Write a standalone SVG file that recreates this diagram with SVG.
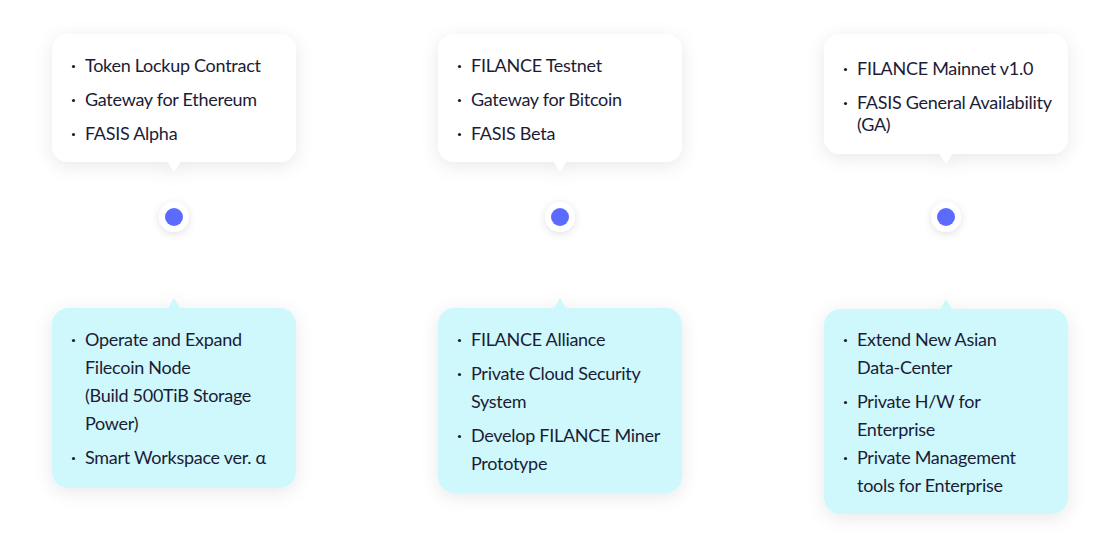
<svg xmlns="http://www.w3.org/2000/svg" width="1120" height="559" viewBox="0 0 1120 559">
<defs>
<filter id="sh" x="-20%" y="-20%" width="140%" height="150%">
<feDropShadow dx="0" dy="4" stdDeviation="9" flood-color="#000" flood-opacity="0.09"/>
</filter>
<filter id="dsh" x="-60%" y="-60%" width="220%" height="220%">
<feDropShadow dx="0" dy="2" stdDeviation="4" flood-color="#000" flood-opacity="0.12"/>
</filter>
</defs>
<style>
.top{fill:#ffffff;filter:url(#sh)}
.bot{fill:#cff8fc;filter:url(#sh)}
.ring{fill:#ffffff;filter:url(#dsh)}
.dot{fill:#5c6bff}
.bl{fill:#1b1c36}
text{font-family:Lato,"Noto Sans",sans-serif;font-size:18px;letter-spacing:-0.28px;fill:#1b1c36}
</style>
<rect width="1120" height="559" fill="#ffffff"/>

<g id="connectors"></g>

<g id="top1">
<path class="top" d="M68,34 H280 A16,16 0 0 1 296,50 V146 A16,16 0 0 1 280,162 H180 L174,172 L168,162 H68 A16,16 0 0 1 52,146 V50 A16,16 0 0 1 68,34 Z"/>
<circle class="bl" cx="73.5" cy="66.5" r="1.6"/><text x="85" y="72">Token Lockup Contract</text>
<circle class="bl" cx="73.5" cy="100.5" r="1.6"/><text x="85" y="106">Gateway for Ethereum</text>
<circle class="bl" cx="73.5" cy="134.5" r="1.6"/><text x="85" y="140">FASIS Alpha</text>
</g>

<g id="top2">
<path class="top" d="M454,34 H666 A16,16 0 0 1 682,50 V146 A16,16 0 0 1 666,162 H566 L560,172 L554,162 H454 A16,16 0 0 1 438,146 V50 A16,16 0 0 1 454,34 Z"/>
<circle class="bl" cx="459.5" cy="66.5" r="1.6"/><text x="471" y="72">FILANCE Testnet</text>
<circle class="bl" cx="459.5" cy="100.5" r="1.6"/><text x="471" y="106">Gateway for Bitcoin</text>
<circle class="bl" cx="459.5" cy="134.5" r="1.6"/><text x="471" y="140">FASIS Beta</text>
</g>

<g id="top3">
<path class="top" d="M840,34 H1052 A16,16 0 0 1 1068,50 V138 A16,16 0 0 1 1052,154 H952 L946,164 L940,154 H840 A16,16 0 0 1 824,138 V50 A16,16 0 0 1 840,34 Z"/>
<circle class="bl" cx="845.5" cy="69.5" r="1.6"/><text x="857" y="75">FILANCE Mainnet v1.0</text>
<circle class="bl" cx="845.5" cy="103.5" r="1.6"/><text x="857" y="109">FASIS General Availability</text>
<text x="857" y="131">(GA)</text>
</g>

<g id="dot1"><circle class="ring" cx="174" cy="217" r="15"/><circle class="dot" cx="174" cy="217" r="9"/></g>
<g id="dot2"><circle class="ring" cx="560" cy="217" r="15"/><circle class="dot" cx="560" cy="217" r="9"/></g>
<g id="dot3"><circle class="ring" cx="946" cy="217" r="15"/><circle class="dot" cx="946" cy="217" r="9"/></g>

<g id="bot1">
<path class="bot" d="M68,308 H168 L174,298 L180,308 H280 A16,16 0 0 1 296,324 V472 A16,16 0 0 1 280,488 H68 A16,16 0 0 1 52,472 V324 A16,16 0 0 1 68,308 Z"/>
<circle class="bl" cx="73.5" cy="340.5" r="1.6"/><text x="85" y="346">Operate and Expand</text>
<text x="85" y="374">Filecoin Node</text>
<text x="85" y="402">(Build 500TiB Storage</text>
<text x="85" y="430">Power)</text>
<circle class="bl" cx="73.5" cy="458.5" r="1.6"/><text x="85" y="464">Smart Workspace ver. α</text>
</g>

<g id="bot2">
<path class="bot" d="M454,308 H554 L560,298 L566,308 H666 A16,16 0 0 1 682,324 V477 A16,16 0 0 1 666,493 H454 A16,16 0 0 1 438,477 V324 A16,16 0 0 1 454,308 Z"/>
<circle class="bl" cx="459.5" cy="340.5" r="1.6"/><text x="471" y="346">FILANCE Alliance</text>
<circle class="bl" cx="459.5" cy="374.5" r="1.6"/><text x="471" y="380">Private Cloud Security</text>
<text x="471" y="408">System</text>
<circle class="bl" cx="459.5" cy="436.5" r="1.6"/><text x="471" y="442">Develop FILANCE Miner</text>
<text x="471" y="470">Prototype</text>
</g>

<g id="bot3">
<path class="bot" d="M840,309 H940 L946,299 L952,309 H1052 A16,16 0 0 1 1068,325 V498 A16,16 0 0 1 1052,514 H840 A16,16 0 0 1 824,498 V325 A16,16 0 0 1 840,309 Z"/>
<circle class="bl" cx="845.5" cy="340.5" r="1.6"/><text x="857" y="346">Extend New Asian</text>
<text x="857" y="374">Data-Center</text>
<circle class="bl" cx="845.5" cy="402.5" r="1.6"/><text x="857" y="408">Private H/W for</text>
<text x="857" y="436">Enterprise</text>
<circle class="bl" cx="845.5" cy="458.5" r="1.6"/><text x="857" y="464">Private Management</text>
<text x="857" y="492">tools for Enterprise</text>
</g>
</svg>
